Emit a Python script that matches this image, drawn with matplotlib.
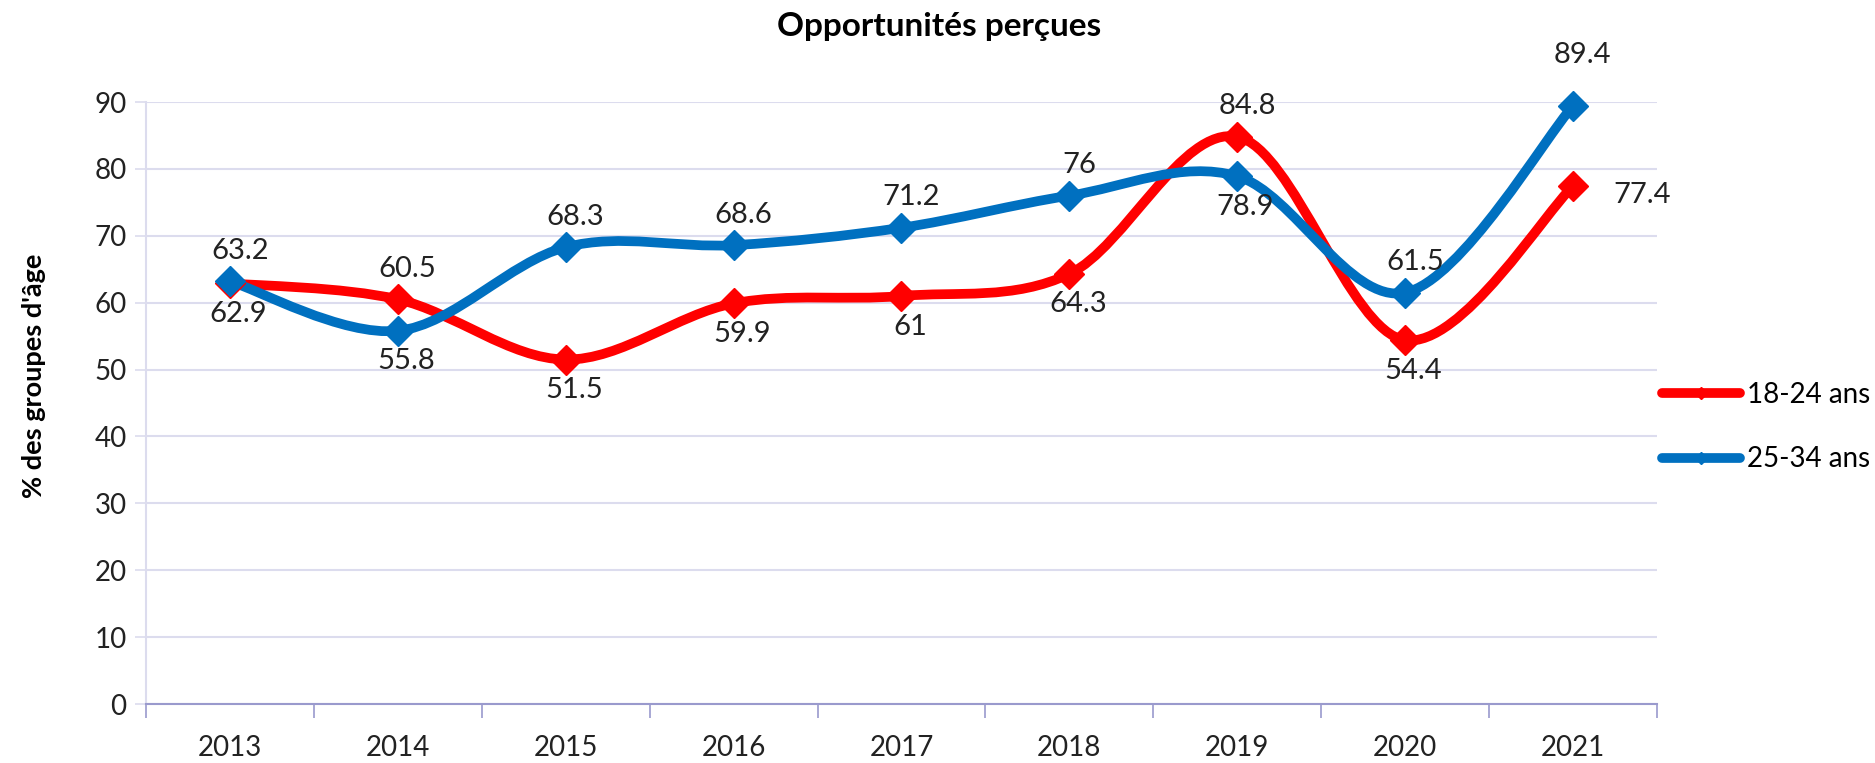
import numpy as np
import matplotlib
matplotlib.use("Agg")
import matplotlib.pyplot as plt
from matplotlib.path import Path
from matplotlib.patches import PathPatch
from matplotlib.lines import Line2D

plt.rcParams['font.family'] = ['Lato', 'DejaVu Sans']

years = ["2013", "2014", "2015", "2016", "2017", "2018", "2019", "2020", "2021"]
young = [62.9, 60.5, 51.5, 59.9, 61, 64.3, 84.8, 54.4, 77.4]      # 18-24 ans
older = [63.2, 55.8, 68.3, 68.6, 71.2, 76, 78.9, 61.5, 89.4]      # 25-34 ans
# where each data label sits: 'a' above, 'b' below, 'r' right, 't' high above
young_pos = ['b', 'a', 'b', 'b', 'b', 'b', 'a', 'b', 'r']
older_pos = ['a', 'b', 'a', 'a', 'a', 'a', 'b', 'a', 't']

red = "#FF0000"
blue = "#0070C0"
grid_col = "#DCDCEE"
axis_col = "#9A9ACD"


def smooth_path(x, y):
    # excel-like smoothed line: cubic bezier segments through the points
    pts = np.column_stack([x, y]).astype(float)
    n = len(pts)
    verts = [pts[0]]
    codes = [Path.MOVETO]
    for i in range(n - 1):
        p0 = pts[i - 1] if i > 0 else pts[i]
        p1 = pts[i]
        p2 = pts[i + 1]
        p3 = pts[i + 2] if i + 2 < n else pts[i + 1]
        c1 = p1 + (p2 - p0) / 6
        c2 = p2 - (p3 - p1) / 6
        verts += [c1, c2, p2]
        codes += [Path.CURVE4] * 3
    return Path(verts, codes)


fig = plt.figure(figsize=(18.75, 7.63), dpi=100)
ax = fig.add_axes([0.0779, 0.0773, 0.8058, 0.789])

x = np.arange(len(years))
for vals, col in [(young, red), (older, blue)]:
    ax.add_patch(PathPatch(smooth_path(x, vals), facecolor='none', edgecolor=col,
                           lw=7, capstyle='round', joinstyle='round', clip_on=False, zorder=3))
    ax.plot(x, vals, ls='none', marker='D', ms=15, color=col, clip_on=False, zorder=4)

offs = {'a': (7, 22), 'b': (6, -22), 'r': (50, -6), 't': (7, 37)}
for vals, pos in [(young, young_pos), (older, older_pos)]:
    for xi, v, p in zip(x, vals, pos):
        lab = f"{v:g}"
        ax.annotate(lab, (xi, v), xytext=offs[p], textcoords='offset points',
                    ha='center', va='center', fontsize=21, color='#222222', zorder=5)

ax.set_xlim(-0.5, len(years) - 0.5)
ax.set_ylim(0, 90)
ax.set_yticks(range(0, 91, 10))
ax.set_xticks(x)
ax.set_xticklabels(years)
ax.set_xticks(np.arange(-0.5, len(years), 1), minor=True)
ax.tick_params(axis='x', which='major', length=0, pad=22, labelsize=20, labelcolor='#222222')
ax.tick_params(axis='x', which='minor', length=10, width=1.2, color=axis_col, direction='out')
ax.tick_params(axis='y', length=8, width=1.2, color=grid_col, pad=6, labelsize=20, labelcolor='#222222')

ax.grid(axis='y', color=grid_col, lw=1.5)
ax.set_axisbelow(True)
for s in ['top', 'right']:
    ax.spines[s].set_visible(False)
ax.spines['left'].set_color(grid_col)
ax.spines['left'].set_linewidth(1.5)
ax.spines['bottom'].set_color(axis_col)
ax.spines['bottom'].set_linewidth(1.5)

ax.set_ylabel("% des groupes d'âge", fontsize=19.5, fontweight='bold')
ax.yaxis.set_label_coords(-0.066, 0.545)
fig.text(0.501, 0.965, "Opportunités perçues", ha='center', va='center',
         fontsize=24, fontweight='bold')

handles = [Line2D([], [], color=red, lw=7, marker='D', ms=6, solid_capstyle='round'),
           Line2D([], [], color=blue, lw=7, marker='D', ms=6, solid_capstyle='round')]
fig.legend(handles, ["18-24 ans", "25-34 ans"], loc='center left',
           bbox_to_anchor=(0.879, 0.4404), frameon=False, fontsize=20, borderpad=0,
           handlelength=2.8, handletextpad=0.25, labelspacing=1.4)

fig.savefig("out.png", dpi=100)
